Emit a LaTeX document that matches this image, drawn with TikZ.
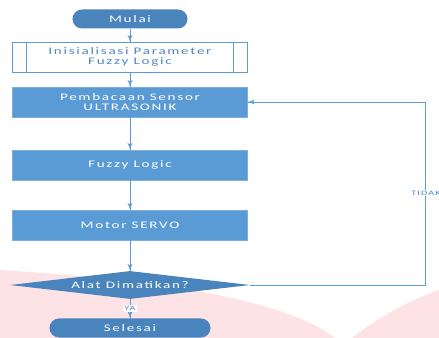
\documentclass[tikz,border=0pt]{standalone}
\usepackage{fontspec}
\setmainfont{Carlito}[FakeStretch=1.5, LetterSpace=17]
\usetikzlibrary{arrows}
\usetikzlibrary{decorations.markings}
\usetikzlibrary{shapes.geometric}
\definecolor{mblue}{HTML}{5B9BD5}
\definecolor{dblue}{HTML}{4A84BC}
\definecolor{tblue}{HTML}{4F86C6}
\definecolor{mpink}{HTML}{FDE3E6}
\tikzset{arr/.style = {draw=mblue, line width=0.8pt,
                       decoration={markings,
                                   mark=at position 1 with {\arrow[scale=1.1, mblue]{latex'}}},
                       postaction={decorate}}}
\tikzset{flowline/.style = {draw=mblue, line width=0.8pt}}
\tikzset{proc/.style = {rectangle, fill=mblue, draw=mblue!80, text=white,
                        minimum width=7.05cm, minimum height=0.9cm,
                        align=center, font=\fontsize{8.6}{8}\selectfont}}
\tikzset{term/.style = {rectangle, rounded corners=0.285cm, fill=dblue, text=white,
                        minimum height=0.57cm, font=\fontsize{8.6}{8}\selectfont}}
\tikzset{lbl/.style = {fill=white, text=tblue, inner sep=1pt, font=\fontsize{5.8}{6}\selectfont}}

\begin{document}
\begin{tikzpicture}[x=0.03cm, y=-0.03cm]
      \useasboundingbox (0, 0) rectangle (439, 338);

      % watermark in the background
      \fill [mpink] (0, 270) .. controls (130, 278) and (280, 295) .. (335, 338) -- (0, 338) -- cycle;
      \fill [mpink] (352, 338) .. controls (380, 316) and (410, 300) .. (439, 290) -- (439, 338) -- cycle;

      \node [term, minimum width=3.45cm] (mulai) at (130, 19) {Mulai};
      \node [proc, fill=white, draw=mblue, text=tblue] (init) at (130, 57) {Inisialisasi Parameter\\Fuzzy Logic};
      \draw [flowline] ([xshift=0.42cm]init.north west) -- ([xshift=0.42cm]init.south west);
      \draw [flowline] ([xshift=-0.42cm]init.north east) -- ([xshift=-0.42cm]init.south east);
      \node [proc] (baca) at (130, 102) {Pembacaan Sensor\\ULTRASONIK};
      \node [proc] (fuzzy) at (130, 165) {Fuzzy Logic};
      \node [proc] (servo) at (130, 225) {Motor SERVO};
      \node [diamond, aspect=8.5, inner sep=0, fill=dblue, text=white,
             minimum width=7.2cm, minimum height=0.84cm,
             font=\fontsize{8.6}{8}\selectfont] (cek) at (130, 285) {Alat Dimatikan?};
      \node [term, minimum width=4.83cm] (selesai) at (130, 328) {Selesai};

      \draw [arr] (mulai) -- (init);
      \draw [arr] (init) -- (baca);
      \draw [arr] (baca) -- (fuzzy);
      \draw [arr] (fuzzy) -- (servo);
      \draw [arr] (servo) -- (cek);
      \draw [arr] (cek) -- node [lbl] {YA} (selesai);

      \coordinate (balik) at (425, 285);
      \draw [arr] (cek.east) -- (balik) |- (baca.east);
      \node [lbl] (tidak) at (426, 193) {TIDAK};
    \end{tikzpicture}
\end{document}
